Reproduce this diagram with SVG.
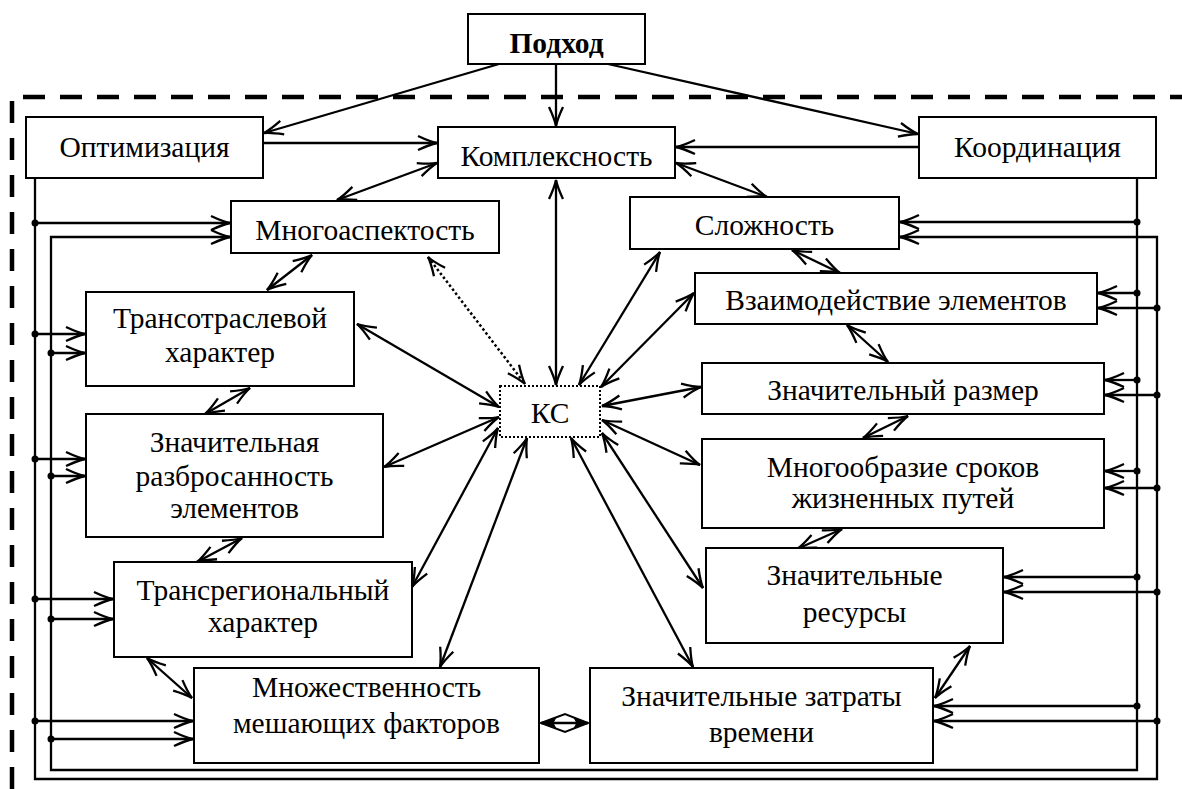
<svg xmlns="http://www.w3.org/2000/svg" width="1182" height="789" viewBox="0 0 1182 789">
<style>
.box{fill:#fff;stroke:#000;stroke-width:2}
.t{font-family:'Liberation Serif','DejaVu Serif',serif;font-size:29.5px;text-anchor:middle;fill:#000}
.c{fill:none;stroke:#000;stroke-width:2.3}
.e{marker-end:url(#ah)}
.b{marker-start:url(#ah);marker-end:url(#ah)}
.dot{fill:#000}
</style>
<defs>
<marker id="ah" viewBox="-22 -9 24 18" refX="0" refY="0" markerWidth="24" markerHeight="18" markerUnits="userSpaceOnUse" orient="auto-start-reverse">
<path d="M-19,-7 Q-7,-1.4 0,0 Q-7,1.4 -19,7" fill="none" stroke="#000" stroke-width="2.3"/>
</marker>
</defs>
<rect width="1182" height="789" fill="#fff"/>
<path d="M12,789 V97 H1182" fill="none" stroke="#000" stroke-width="4.5" stroke-dasharray="22,15"/>
<g id="connectors">
<path class="c e" d="M499,64 L264,133"/>
<path class="c e" d="M556,64 V126"/>
<path class="c e" d="M608,64 L918,134"/>
<path class="c e" d="M264,143 H437"/>
<path class="c e" d="M919,147 H676"/>
<path class="c b" d="M337,200 L437,163"/>
<path class="c b" d="M676,163 L767,197"/>
<path class="c b" d="M556,180 V385"/>
<path class="c b" d="M312,255 L267,290"/>
<path class="c b" d="M250,388 L205,414"/>
<path class="c b" d="M242,538 L197,562"/>
<path class="c b" d="M147,658 L192,698"/>
<path class="c b" d="M792,250 L840,273"/>
<path class="c b" d="M847,325 L888,362"/>
<path class="c b" d="M908,416 L863,438"/>
<path class="c b" d="M842,529 L797,549"/>
<path class="c b" d="M970,646 L935,698"/>
<path class="c b" d="M357,324 L499,407"/>
<path class="c b" d="M384,467 L499,417"/>
<path class="c b" d="M412,587 L498,428"/>
<path class="c b" d="M440,667 L527,438"/>
<path class="c b" d="M693,667 L571,438"/>
<path class="c b" d="M703,588 L602,433"/>
<path class="c b" d="M700,465 L602,420"/>
<path class="c b" d="M701,387 L602,406"/>
<path class="c b" d="M694,293 L601,387"/>
<path class="c b" d="M660,252 L579,385"/>
<path class="b" d="M428,257 L525,384" fill="none" stroke="#000" stroke-width="2.5" stroke-dasharray="2.5,2.5"/>
<path class="c" d="M541,723 H588"/>
<path d="M541,723 L565,714 L588,723 L565,732 Z" fill="none" stroke="#000" stroke-width="2"/>
<path d="M541,723 L556,717.4 L553,723 L556,728.6 Z M588,723 L574,717.8 L577,723 L574,728.2 Z" fill="#000" stroke="#000" stroke-width="1"/>
<path class="c e" d="M35,178 V779 H1157 V237 H900"/>
<path class="c e" d="M1137,178 V770 H51 V237 H230"/>
<path class="c e" d="M35,223 H230"/>
<path class="c e" d="M35,334 H85"/>
<path class="c e" d="M51,353 H85"/>
<path class="c e" d="M35,459 H85"/>
<path class="c e" d="M51,476 H85"/>
<path class="c e" d="M35,599 H113"/>
<path class="c e" d="M51,619 H113"/>
<path class="c e" d="M35,721 H193"/>
<path class="c e" d="M51,739 H193"/>
<path class="c e" d="M1137,222 H900"/>
<path class="c e" d="M1137,293 H1098"/>
<path class="c e" d="M1157,308 H1098"/>
<path class="c e" d="M1137,380 H1105"/>
<path class="c e" d="M1157,395 H1105"/>
<path class="c e" d="M1137,471 H1105"/>
<path class="c e" d="M1157,488 H1105"/>
<path class="c e" d="M1137,577 H1004"/>
<path class="c e" d="M1157,592 H1004"/>
<path class="c e" d="M1137,706 H934"/>
<path class="c e" d="M1157,721 H934"/>
<circle class="dot" cx="35" cy="223" r="3.5"/>
<circle class="dot" cx="35" cy="334" r="3.5"/>
<circle class="dot" cx="51" cy="353" r="3.5"/>
<circle class="dot" cx="35" cy="459" r="3.5"/>
<circle class="dot" cx="51" cy="476" r="3.5"/>
<circle class="dot" cx="35" cy="599" r="3.5"/>
<circle class="dot" cx="51" cy="619" r="3.5"/>
<circle class="dot" cx="35" cy="721" r="3.5"/>
<circle class="dot" cx="51" cy="739" r="3.5"/>
<circle class="dot" cx="1137" cy="222" r="3.5"/>
<circle class="dot" cx="1137" cy="293" r="3.5"/>
<circle class="dot" cx="1157" cy="308" r="3.5"/>
<circle class="dot" cx="1137" cy="380" r="3.5"/>
<circle class="dot" cx="1157" cy="395" r="3.5"/>
<circle class="dot" cx="1137" cy="471" r="3.5"/>
<circle class="dot" cx="1157" cy="488" r="3.5"/>
<circle class="dot" cx="1137" cy="577" r="3.5"/>
<circle class="dot" cx="1157" cy="592" r="3.5"/>
<circle class="dot" cx="1137" cy="706" r="3.5"/>
<circle class="dot" cx="1157" cy="721" r="3.5"/>
</g>
<g id="podhod"><rect class="box" x="468" y="14" width="177" height="50"/><text class="t" x="556.5" y="53" font-weight="bold">Подход</text></g>
<g id="optimizaciya"><rect class="box" x="26" y="117" width="237" height="61"/><text class="t" x="144.5" y="157">Оптимизация</text></g>
<g id="kompleksnost"><rect class="box" x="438" y="127" width="237" height="51"/><text class="t" x="556.5" y="166">Комплексность</text></g>
<g id="koordinaciya"><rect class="box" x="919" y="117" width="237" height="61"/><text class="t" x="1037.5" y="157">Координация</text></g>
<g id="mnogoaspektost"><rect class="box" x="231" y="201" width="268" height="52"/><text class="t" x="365" y="240">Многоаспектость</text></g>
<g id="slozhnost"><rect class="box" x="630" y="197" width="269" height="52"/><text class="t" x="764.5" y="235">Сложность</text></g>
<g id="transotraslevoy"><rect class="box" x="86" y="292" width="268" height="94"/><text class="t" x="220" y="328">Трансотраслевой</text><text class="t" x="220" y="362">характер</text></g>
<g id="razbrosannost"><rect class="box" x="86" y="414" width="297" height="123"/><text class="t" x="234.5" y="452">Значительная</text><text class="t" x="234.5" y="486">разбросанность</text><text class="t" x="234.5" y="518">элементов</text></g>
<g id="transregionalny"><rect class="box" x="114" y="562" width="298" height="95"/><text class="t" x="263" y="600">Трансрегиональный</text><text class="t" x="263" y="632">характер</text></g>
<g id="mnozhestvennost"><rect class="box" x="194" y="668" width="345" height="95"/><text class="t" x="366.5" y="697">Множественность</text><text class="t" x="366.5" y="733">мешающих факторов</text></g>
<g id="zatraty"><rect class="box" x="590" y="668" width="343" height="95"/><text class="t" x="761.5" y="706">Значительные затраты</text><text class="t" x="761.5" y="742">времени</text></g>
<g id="resursy"><rect class="box" x="706" y="548" width="297" height="95"/><text class="t" x="854.5" y="585">Значительные</text><text class="t" x="854.5" y="622">ресурсы</text></g>
<g id="vzaimodeystvie"><rect class="box" x="695" y="273" width="402" height="51"/><text class="t" x="896" y="310">Взаимодействие элементов</text></g>
<g id="razmer"><rect class="box" x="702" y="363" width="402" height="51"/><text class="t" x="903" y="400">Значительный размер</text></g>
<g id="mnogoobrazie"><rect class="box" x="702" y="439" width="402" height="89"/><text class="t" x="903" y="477">Многообразие сроков</text><text class="t" x="903" y="508">жизненных путей</text></g>
<g id="ks"><rect x="500" y="386" width="100" height="51" fill="#fff" stroke="#000" stroke-width="2" stroke-dasharray="2,2"/><text class="t" x="550" y="423">КС</text></g>
</svg>
